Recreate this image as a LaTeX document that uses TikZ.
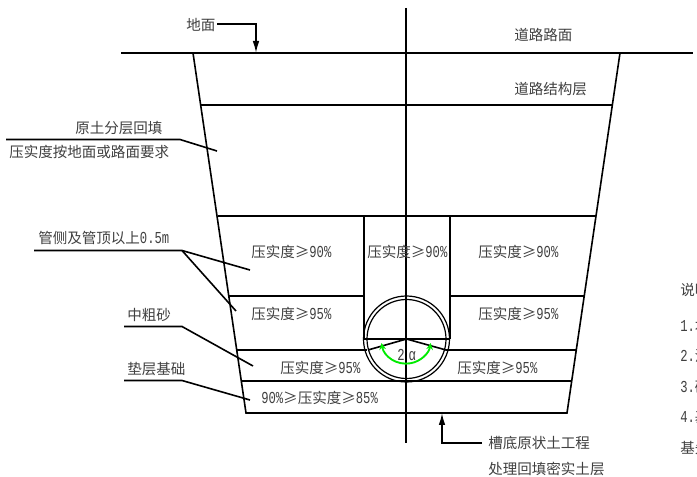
\documentclass[tikz,border=0pt]{standalone}
\usepackage{fontspec}
\setmainfont{Noto Sans CJK SC}
\newfontfamily\latf{Liberation Mono}[Scale=1.15,FakeStretch=0.73]
\newcommand{\nm}[1]{{\latf #1}}
\usetikzlibrary{arrows.meta}
\definecolor{txt}{gray}{0.25}
\definecolor{arcgreen}{RGB}{0,235,0}
\tikzset{
  thick line/.style={line width=1.5pt,black},
  thin line/.style={line width=1.2pt,black},
  lbl/.style={inner sep=0pt,text=txt,font=\fontsize{10.9}{12}\selectfont,anchor=west},
  arrowtip/.style={-{Latex[length=9pt,width=5pt]}},
}
\begin{document}
\begin{tikzpicture}[x=0.75pt,y=-0.75pt]
\useasboundingbox (0,0) rectangle (697,477);
\fill[white] (0,0) rectangle (697,477);
% coordinates
\coordinate (gl) at (121,53);
\coordinate (gr) at (693,53);
\coordinate (tl) at (193,53);
\coordinate (tr) at (620,53);
\coordinate (bl) at (246,413);
\coordinate (br) at (567,413);
\coordinate (ctop) at (406,8);
\coordinate (cbot) at (406,443);
\coordinate (pc) at (406.5,339);
% main outline
\draw[thin line] (gl) -- (gr);
\draw[thin line,line join=miter] (tl) -- (bl) -- (br) -- (tr);
\draw[thin line] (ctop) -- (cbot);
% layers
\draw[thin line] (201,105) -- (613,105);
\draw[thin line] (217.5,216) -- (595.5,216);
\draw[thin line] (229,296) -- (364,296);
\draw[thin line] (450,296) -- (584,296);
\draw[thin line] (237,350) -- (367,350);
\draw[thin line] (446,350) -- (576,350);
\draw[thick line] (242,381) -- (571,381);
\draw[thin line] (364,216) -- (364,339);
\draw[thin line] (450,216) -- (450,339);
% pipe
\draw[line width=0.9pt,black] (pc) circle (43);
\draw[line width=0.9pt,black] (pc) circle (39.5);
\draw[thin line] (364,339) -- (450,339);
\coordinate (al) at (368,350);
\coordinate (ar) at (446,350);
\draw[thin line] (pc) -- (al);
\draw[thin line] (pc) -- (ar);
\draw[line width=1.4pt,arcgreen,{Stealth[length=5pt,width=5pt]}-{Stealth[length=5pt,width=5pt]}] (381.5,343) arc[start angle=170,end angle=10,radius=25];
\node[lbl] (twoa) at (397,355) {\nm{2\hspace{3pt}α}};
% leaders
\coordinate (dm0) at (217,24);
\coordinate (dm1) at (256,24);
\draw[thin line,arrowtip] (dm0) -- (dm1) -- (256,53);
\draw[thin line] (6,139.5) -- (180,139.5) -- (217,151);
\draw[thin line] (34,250.5) -- (182,250.5) -- (250,270);
\draw[thin line] (182,250.5) -- (236,311);
\draw[thin line] (124,326.5) -- (182,326.5) -- (253,366);
\draw[thin line] (124,380.5) -- (182,380.5) -- (250,400);
\draw[thin line,arrowtip] (482,443) -- (442,443) -- (442,413);
% labels
\node[lbl] (n1) at (186,25) {地面};
\node[lbl] (n2) at (514,35) {道路路面};
\node[lbl] (n3) at (514,89) {道路结构层};
\node[lbl] (n4) at (75,128) {原土分层回填};
\node[lbl] (n5) at (9,152) {压实度按地面或路面要求};
\node[lbl] (n6) at (38,238) {管侧及管顶以上\nm{0.5m}};
\node[lbl] (n7) at (127,315) {中粗砂};
\node[lbl] (n8) at (127,369) {垫层基础};
\node[lbl] (n9) at (251,252) {压实度≥\nm{90\%}};
\node[lbl] (n10) at (367,252) {压实度≥\nm{90\%}};
\node[lbl] (n11) at (478,252) {压实度≥\nm{90\%}};
\node[lbl] (n12) at (251,314) {压实度≥\nm{95\%}};
\node[lbl] (n13) at (478,314) {压实度≥\nm{95\%}};
\node[lbl] (n14) at (280,368) {压实度≥\nm{95\%}};
\node[lbl] (n15) at (457,368) {压实度≥\nm{95\%}};
\node[lbl] (n16) at (261,398) {\nm{90\%}≥压实度≥\nm{85\%}};
\node[lbl] (n17) at (488,443) {槽底原状土工程};
\node[lbl] (n18) at (488,469) {处理回填密实土层};
\node[lbl] (s0) at (680,290) {说明};
\node[lbl] (s1) at (680,326) {\nm{1.}本};
\node[lbl] (s2) at (680,356) {\nm{2.}沟};
\node[lbl] (s3) at (680,387) {\nm{3.}砂};
\node[lbl] (s4) at (680,417) {\nm{4.}基};
\node[lbl] (s5) at (680,448) {基先};
\end{tikzpicture}
\end{document}
